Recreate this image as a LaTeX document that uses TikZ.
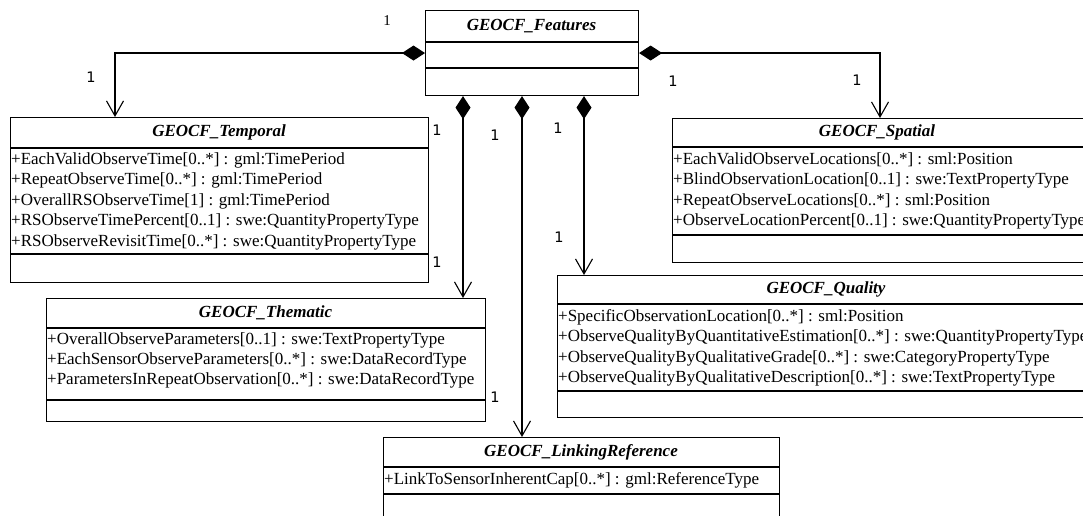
\documentclass[tikz,border=0pt]{standalone}
\usepackage{fontspec}
\setmainfont{Liberation Serif}
\newfontfamily\multfont{DejaVu Sans}
\usetikzlibrary{arrows.meta}

\tikzset{
  umlbox/.style={draw, line width=1.1pt, anchor=north west, inner sep=0pt},
  sepline/.style={line width=1.1pt},
  ctitle/.style={font=\fontsize{17}{20}\selectfont\bfseries\itshape, inner sep=0pt},
  attr/.style={font=\fontsize{17}{20}\selectfont, anchor=west, inner sep=0pt},
  mult/.style={font=\fontsize{14.5}{16}\selectfont\multfont, inner sep=0pt},
  multserif/.style={font=\fontsize{15}{17}\selectfont, inner sep=0pt},
  comp/.style={line width=1.1pt,
    {Diamond[length=23pt,width=15pt]}-{Straight Barb[length=15pt,width=17pt,line width=1.1pt]}},
}

\begin{document}
\begin{tikzpicture}[x=1pt, y=-1pt, line join=miter]
\useasboundingbox (0,0) rectangle (1083,516);
\clip (0,0) rectangle (1083,516);
\fill[white] (0,0) rectangle (1083,516);

% ---------- GEOCF_Features ----------
\node[umlbox, minimum width=213pt, minimum height=85pt] (features) at (425,10) {};
\draw[sepline] (425,42) -- (638,42);
\draw[sepline] (425,68) -- (638,68);
\node[ctitle] (featuresT) at (531.5,26) {GEOCF\_Features};

% ---------- GEOCF_Temporal ----------
\node[umlbox, minimum width=418pt, minimum height=165pt] (temporal) at (10,117) {};
\draw[sepline] (10,148) -- (428,148);
\draw[sepline] (10,254) -- (428,254);
\node[ctitle] (temporalT) at (219,132.5) {GEOCF\_Temporal};
\node[attr] (t1) at (11,160) {+EachValidObserveTime[0..*] : gml:TimePeriod};
\node[attr] (t2) at (11,180.5) {+RepeatObserveTime[0..*] : gml:TimePeriod};
\node[attr] (t3) at (11,201) {+OverallRSObserveTime[1] : gml:TimePeriod};
\node[attr] (t4) at (11,221.5) {+RSObserveTimePercent[0..1] : swe:QuantityPropertyType};
\node[attr] (t5) at (11,242) {+RSObserveRevisitTime[0..*] : swe:QuantityPropertyType};

% ---------- GEOCF_Spatial (runs past the right edge) ----------
\node[umlbox, minimum width=430pt, minimum height=144pt] (spatial) at (672,118) {};
\draw[sepline] (672,147) -- (1102,147);
\draw[sepline] (672,235) -- (1102,235);
\node[ctitle] (spatialT) at (877,132.5) {GEOCF\_Spatial};
\node[attr] (s1) at (673,160) {+EachValidObserveLocations[0..*] : sml:Position};
\node[attr] (s2) at (673,180.5) {+BlindObservationLocation[0..1] : swe:TextPropertyType};
\node[attr] (s3) at (673,201) {+RepeatObserveLocations[0..*] : sml:Position};
\node[attr] (s4) at (673,221.5) {+ObserveLocationPercent[0..1] : swe:QuantityPropertyType};

% ---------- GEOCF_Thematic ----------
\node[umlbox, minimum width=439pt, minimum height=123pt] (thematic) at (46,298) {};
\draw[sepline] (46,328) -- (485,328);
\draw[sepline] (46,400) -- (485,400);
\node[ctitle] (thematicT) at (265.5,313) {GEOCF\_Thematic};
\node[attr] (h1) at (47,340) {+OverallObserveParameters[0..1] : swe:TextPropertyType};
\node[attr] (h2) at (47,360) {+EachSensorObserveParameters[0..*] : swe:DataRecordType};
\node[attr] (h3) at (47,380) {+ParametersInRepeatObservation[0..*] : swe:DataRecordType};

% ---------- GEOCF_Quality (runs past the right edge) ----------
\node[umlbox, minimum width=545pt, minimum height=142pt] (quality) at (557,275) {};
\draw[sepline] (557,304) -- (1102,304);
\draw[sepline] (557,391) -- (1102,391);
\node[ctitle] (qualityT) at (826,289.5) {GEOCF\_Quality};
\node[attr] (q1) at (558,317) {+SpecificObservationLocation[0..*] : sml:Position};
\node[attr] (q2) at (558,337.5) {+ObserveQualityByQuantitativeEstimation[0..*] : swe:QuantityPropertyType};
\node[attr] (q3) at (558,358) {+ObserveQualityByQualitativeGrade[0..*] : swe:CategoryPropertyType};
\node[attr] (q4) at (558,378.5) {+ObserveQualityByQualitativeDescription[0..*] : swe:TextPropertyType};

% ---------- GEOCF_LinkingReference (runs past the bottom edge) ----------
\node[umlbox, minimum width=396pt, minimum height=100pt] (linking) at (383,437) {};
\draw[sepline] (383,467) -- (779,467);
\draw[sepline] (383,494) -- (779,494);
\node[ctitle] (linkingT) at (581,452) {GEOCF\_LinkingReference};
\node[attr] (l1) at (384,480.5) {+LinkToSensorInherentCap[0..*] : gml:ReferenceType};

% ---------- composition connectors ----------
\draw[comp] (features.west) -| (temporal.north -| 115,0);
\draw[comp] (features.east) -| (spatial.north -| 880,0);
\draw[comp] (features.south -| 463,0) -- (thematic.north -| 463,0);
\draw[comp] (features.south -| 522,0) -- (linking.north -| 522,0);
\draw[comp] (features.south -| 584,0) -- (quality.north -| 584,0);

% ---------- multiplicities ----------
\node[multserif] (m0) at (387,21) {1};
\node[mult] (m1) at (91,77) {1};
\node[mult] (m2) at (673,81) {1};
\node[mult] (m3) at (857,80) {1};
\node[mult] (m4) at (437,130) {1};
\node[mult] (m5) at (495,135) {1};
\node[mult] (m6) at (558,128) {1};
\node[mult] (m7) at (559,237) {1};
\node[mult] (m8) at (437,262) {1};
\node[mult] (m9) at (495,397) {1};
\end{tikzpicture}
\end{document}
